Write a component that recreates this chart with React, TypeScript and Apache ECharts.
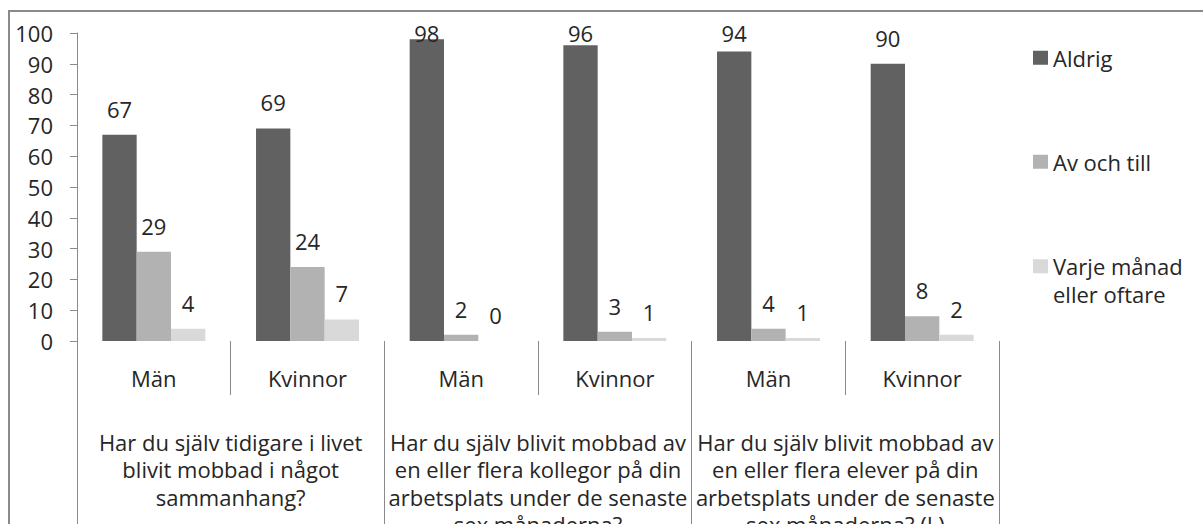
import React, { useEffect, useRef } from "react";
import * as echarts from "echarts";

const genders = ["Män", "Kvinnor", "Män", "Kvinnor", "Män", "Kvinnor"];
const questions = [
  "Har du själv tidigare i livet\nblivit mobbad i något\nsammanhang?",
  "Har du själv blivit mobbad av\nen eller flera kollegor på din\narbetsplats under de senaste\nsex månaderna?",
  "Har du själv blivit mobbad av\nen eller flera elever på din\narbetsplats under de senaste\nsex månaderna? (L)",
];
const seriesNames = ["Aldrig", "Av och till", "Varje månad\neller oftare"];
const aldrig = [67, 69, 98, 96, 94, 90];
const avOchTill = [29, 24, 2, 3, 4, 8];
const varjeManad = [4, 7, 0, 1, 1, 2];
const yTicks = { min: 0, max: 100, interval: 10 };

const FONT = "'Open Sans', Lato, sans-serif";
const COLORS = ["#616161", "#b2b2b2", "#d9d9d9"];
const LINE = "#8a8a8a";
const TEXT = "#262626";

export default function App() {
  const ref = useRef<HTMLDivElement>(null);
  useEffect(() => {
    if (!ref.current) return;
    const chart = echarts.init(ref.current, undefined, { renderer: "svg" });
    const values = [aldrig, avOchTill, varjeManad];
    const legendTops = [44, 148, 225];
    chart.setOption({
      animation: false,
      backgroundColor: "#ffffff",
      grid: {
        left: 77,
        right: 204,
        top: 33,
        bottom: 183,
        containLabel: false,
        outerBoundsMode: "none",
      },
      graphic: [
        {
          type: "rect",
          shape: { x: 9, y: 11, width: 1400, height: 800 },
          style: { fill: "none", stroke: LINE, lineWidth: 2 },
          silent: true,
        },
      ],
      legend: seriesNames.map((n, i) => ({
        data: [n],
        left: 1033,
        top: legendTops[i],
        orient: "vertical",
        padding: 0,
        itemWidth: 15,
        itemHeight: 14,
        selectedMode: false,
        icon: "rect",
        formatter: i === 2 ? (name: string) => "\n" + name : "{name}",
        textStyle: {
          fontFamily: FONT,
          fontSize: 22,
          color: TEXT,
          lineHeight: 27.5,
        },
      })),
      xAxis: [
        {
          type: "category",
          data: genders,
          position: "bottom",
          axisLine: { show: false },
          axisTick: { show: true, interval: 0, length: 54, lineStyle: { color: LINE } },
          axisLabel: {
            interval: 0,
            margin: 26,
            fontFamily: FONT,
            fontSize: 22,
            color: TEXT,
          },
        },
        {
          type: "category",
          data: questions,
          position: "bottom",
          axisLine: { show: false },
          axisTick: { show: true, interval: 0, length: 220, lineStyle: { color: LINE } },
          axisLabel: {
            interval: 0,
            margin: 87,
            fontFamily: FONT,
            fontSize: 22,
            lineHeight: 27.5,
            color: TEXT,
            align: "center",
          },
        },
      ],
      yAxis: {
        type: "value",
        min: yTicks.min,
        max: yTicks.max,
        interval: yTicks.interval,
        axisLine: { show: true, lineStyle: { color: LINE } },
        axisTick: { show: true, length: 7, lineStyle: { color: LINE } },
        splitLine: { show: false },
        axisLabel: { margin: 24, fontFamily: FONT, fontSize: 22, color: TEXT },
      },
      series: seriesNames.map((n, i) => ({
        name: n,
        type: "bar",
        xAxisIndex: 0,
        data: values[i],
        barGap: "0%",
        barCategoryGap: "33%",
        itemStyle: { color: COLORS[i] },
        label: {
          show: true,
          position: "top",
          distance: 15,
          fontFamily: FONT,
          fontSize: 22,
          color: TEXT,
        },
        labelLayout: (params: any) => {
          const r = params.labelRect;
          const minTop = 33 - r.height / 2;
          return {
            x: r.x + r.width / 2,
            y: Math.max(r.y, minTop) + r.height / 2,
            align: "center",
            verticalAlign: "middle",
          };
        },
      })),
    });
    return () => chart.dispose();
  }, []);
  return (
    <div
      ref={ref}
      style={{ position: "absolute", left: 0, top: 0, width: 1203, height: 524 }}
    />
  );
}
